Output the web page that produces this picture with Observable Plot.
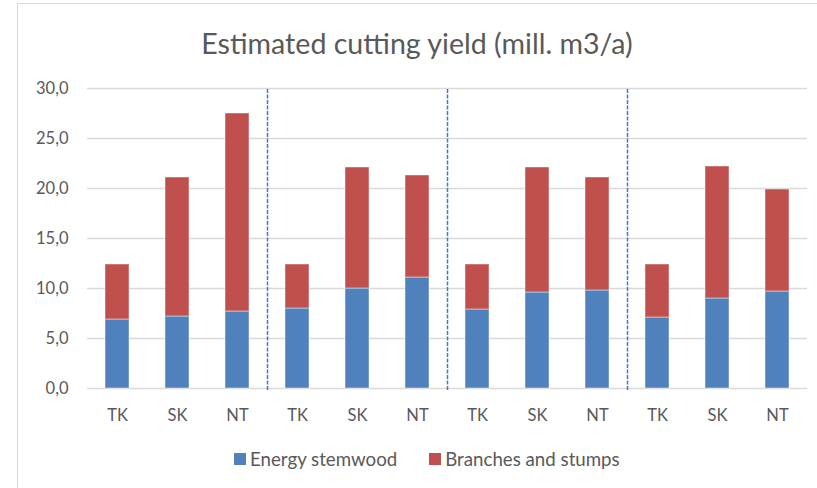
<!DOCTYPE html>
<html>
<head>
<meta charset="utf-8">
<script src="https://cdn.jsdelivr.net/npm/d3@7"></script>
<script src="https://cdn.jsdelivr.net/npm/@observablehq/plot@0.6"></script>
<style>
  html, body { margin: 0; padding: 0; background: #fff; }
  body { width: 817px; height: 488px; position: relative; overflow: hidden; font-family: Lato, "Open Sans", sans-serif; color: #595959; }
  #frame { position: absolute; left: 17px; top: 3px; width: 820px; height: 500px; border-left: 1.5px solid #d9d9d9; border-top: 1.5px solid #d9d9d9; pointer-events: none; z-index: 2; }
  #title { position: absolute; left: 17px; width: 800px; top: 27px; text-align: center; font-size: 28.6px; line-height: 32px; white-space: nowrap; }
  #chart { position: absolute; left: 0; top: 60px; }
  #legend { position: absolute; left: 234px; top: 448px; font-size: 18.7px; line-height: 22px; white-space: nowrap; display: flex; align-items: center; }
  #legend .sw { display: inline-block; width: 12px; height: 12px; margin-right: 4px; }
  #legend .item { display: flex; align-items: center; margin-right: 32px; }
</style>
</head>
<body>
<div id="title">Estimated cutting yield (mill. m3/a)</div>
<div id="chart"></div>
<div id="legend"></div>
<div id="frame"></div>
<script>
// Regions (TK, SK, NT) repeated for four scenarios
const categories = ["TK", "SK", "NT", "TK", "SK", "NT", "TK", "SK", "NT", "TK", "SK", "NT"];
const seriesNames = ["Energy stemwood", "Branches and stumps"];
const seriesColors = ["#4F81BD", "#C0504D"];
const energyStemwood = [6.9, 7.2, 7.7, 8.0, 10.0, 11.1, 7.9, 9.6, 9.8, 7.1, 9.0, 9.7];
const branchesAndStumps = [5.5, 13.9, 19.8, 4.4, 12.1, 10.2, 4.5, 12.5, 11.3, 5.3, 13.2, 10.2];
const yTicks = [0, 5, 10, 15, 20, 25, 30];
// Dividers between the four scenario groups
const groupBreaks = [2.5, 5.5, 8.5];

// Stacked segments: stemwood at the bottom, branches and stumps on top
const rows = categories.flatMap((c, i) => [
  {i, series: seriesNames[0], y1: 0, y2: energyStemwood[i]},
  {i, series: seriesNames[1], y1: energyStemwood[i], y2: energyStemwood[i] + branchesAndStumps[i]}
]);

const halfBar = 0.2;
const fmt = d => d.toFixed(1).replace(".", ",");

const chart = Plot.plot({
  width: 817,
  height: 380,
  marginLeft: 87,
  marginRight: 10,
  marginTop: 28,
  marginBottom: 52,
  style: {fontFamily: "Lato, 'Open Sans', sans-serif", fontSize: "16.5px", color: "#595959", background: "transparent"},
  x: {type: "linear", domain: [-0.5, categories.length - 0.5]},
  y: {domain: [0, 30]},
  color: {domain: seriesNames, range: seriesColors},
  marks: [
    Plot.gridY(yTicks, {stroke: "#d9d9d9", strokeOpacity: 1, strokeWidth: 1.3}),
    Plot.rect(rows, {
      x1: d => d.i - halfBar,
      x2: d => d.i + halfBar,
      y1: "y1",
      y2: "y2",
      fill: "series",
      stroke: "white",
      strokeOpacity: 0.45,
      strokeWidth: 1
    }),
    Plot.ruleX(groupBreaks, {x: d => d, y1: -0.2, y2: 30, stroke: "#3d7ad4", strokeWidth: 1.5, strokeDasharray: "4,1.5"}),
    Plot.axisX(d3.range(categories.length), {tickSize: 0, tickPadding: 21, tickFormat: i => categories[i], label: null, fill: "#595959"}),
    Plot.axisY(yTicks, {tickSize: 0, tickPadding: 19, tickFormat: fmt, label: null, fill: "#595959"})
  ]
});
document.getElementById("chart").appendChild(chart);

// Legend below the chart
const legend = document.getElementById("legend");
seriesNames.forEach((name, k) => {
  const item = document.createElement("span");
  item.className = "item";
  const sw = document.createElement("span");
  sw.className = "sw";
  sw.style.background = seriesColors[k];
  item.appendChild(sw);
  item.appendChild(document.createTextNode(name));
  legend.appendChild(item);
});
</script>
</body>
</html>
